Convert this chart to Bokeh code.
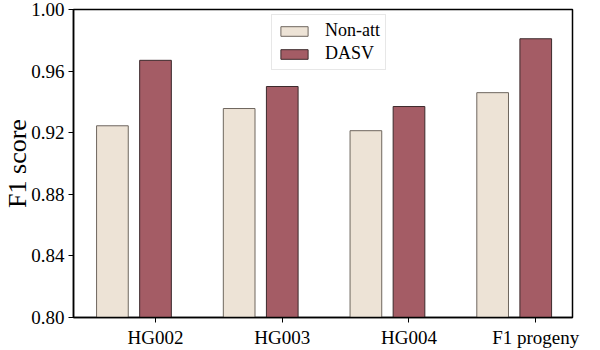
from bokeh.plotting import figure
from bokeh.models import Range1d, FixedTicker, NumeralTickFormatter, Legend, LegendItem, ColumnDataSource
from bokeh.embed import file_html
from bokeh.resources import INLINE

categories = ["HG002", "HG003", "HG004", "F1 progeny"]
non_att = [0.9245, 0.9357, 0.9213, 0.946]
dasv = [0.967, 0.950, 0.937, 0.981]
y_ticks = [0.80, 0.84, 0.88, 0.92, 0.96, 1.00]

FONT = "Liberation Serif"
pos = list(range(len(categories)))
offset = 0.34
bw = 0.25

p = figure(width=600, height=350, output_backend="svg", toolbar_location=None,
           x_range=Range1d(-0.647, 3.29), y_range=Range1d(0.80, 1.00),
           min_border_left=73, min_border_right=28, min_border_top=9, min_border_bottom=33)

src_a = ColumnDataSource(dict(x=[v - offset for v in pos], top=non_att))
src_b = ColumnDataSource(dict(x=pos, top=dasv))
ra = p.vbar(x="x", top="top", bottom=0.80, width=bw, source=src_a,
            fill_color="#EDE3D6", line_color="#6e665e", line_width=1)
rb = p.vbar(x="x", top="top", bottom=0.80, width=bw, source=src_b,
            fill_color="#A45C65", line_color="#3c2a2c", line_width=1)

p.xgrid.visible = False
p.ygrid.visible = False
p.outline_line_color = "black"
p.outline_line_width = 1.5

p.xaxis.ticker = FixedTicker(ticks=pos)
p.xaxis.major_label_overrides = {i: c for i, c in zip(pos, categories)}
p.yaxis.ticker = FixedTicker(ticks=y_ticks)
p.yaxis.formatter = NumeralTickFormatter(format="0.00")
p.yaxis.axis_label = "F1 score"

for ax in (p.xaxis[0], p.yaxis[0]):
    ax.major_tick_out = 5
    ax.major_tick_in = 0
    ax.minor_tick_out = 0
    ax.minor_tick_in = 0
    ax.axis_line_color = "black"
    ax.axis_line_width = 1.5
    ax.major_tick_line_width = 1
    ax.major_tick_line_color = "black"
    ax.major_label_text_font = FONT
    ax.major_label_text_font_size = "19px"
    ax.major_label_text_color = "black"
    ax.major_label_standoff = 4
    ax.axis_label_text_font = FONT
    ax.axis_label_text_font_size = "26px"
    ax.axis_label_text_font_style = "normal"
    ax.axis_label_text_color = "black"
    ax.axis_label_standoff = -4

legend = Legend(items=[LegendItem(label="Non-att", renderers=[ra]),
                       LegendItem(label="DASV", renderers=[rb])],
                location=(198, 247), margin=0, padding=5, spacing=2,
                glyph_width=34, glyph_height=12, label_height=20,
                border_line_color="#d0d0d0", border_line_width=1,
                background_fill_alpha=1.0, label_standoff=14,
                label_text_font=FONT, label_text_font_style="normal",
                label_text_font_size="18px", label_text_color="black")
p.add_layout(legend, "center")

open("out.html", "w").write(file_html(p, INLINE))
